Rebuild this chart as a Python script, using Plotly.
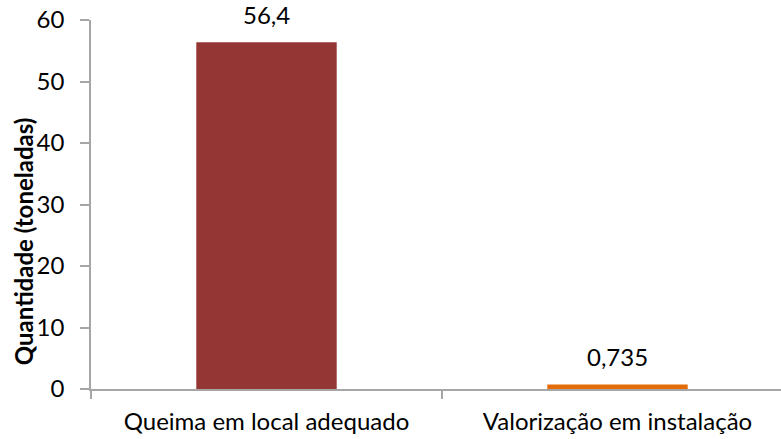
import plotly.graph_objects as go

categories = ["Queima em local adequado", "Valorização em instalação"]
values = [56.4, 0.735]
labels = ["56,4", "0,735"]
colors = ["#943634", "#E36C09"]
y_ticks = [0, 10, 20, 30, 40, 50, 60]

FONT = "Lato, 'Open Sans', sans-serif"

fig = go.Figure(go.Bar(
    x=categories, y=values,
    marker=dict(color=colors, line=dict(width=0)), width=0.4,
))

for c, v, t in zip(categories, values, labels):
    fig.add_annotation(x=c, y=v, text=t, showarrow=False, yanchor="bottom",
                       yshift=11, font=dict(family=FONT, size=24, color="#000000"))

fig.add_annotation(xref="paper", yref="paper", x=-0.0985, y=0.398,
                   text="<b>Quantidade (toneladas)</b>", textangle=-90,
                   showarrow=False, xanchor="center", yanchor="middle",
                   font=dict(family=FONT, size=24, color="#000000"))

fig.update_layout(
    width=781, height=439,
    margin=dict(l=91, r=0, t=20, b=50),
    plot_bgcolor="white", paper_bgcolor="white",
    showlegend=False,
    font=dict(family=FONT, size=24, color="#000000"),
    xaxis=dict(
        type="category", automargin=False,
        range=[-0.5, 1.5 - 12 / 351],
        showline=True, linecolor="#A6A6A6", linewidth=1.5,
        ticks="outside", ticklen=8, tickcolor="#A6A6A6", tickwidth=1.5,
        tickson="boundaries",
        showgrid=False,
        tickfont=dict(family=FONT, size=24),
        ticklabelstandoff=10,
    ),
    yaxis=dict(
        range=[0, 60], tickvals=y_ticks, automargin=False,
        showline=True, linecolor="#A6A6A6", linewidth=1.5,
        ticks="outside", ticklen=9, tickcolor="#A6A6A6", tickwidth=1.5,
        showgrid=False, zeroline=False,
        tickfont=dict(family=FONT, size=24),
        ticklabelstandoff=11,
    ),
)

fig.write_html("out.html", config={"displayModeBar": False},
               post_script="document.body.style.margin='0';")
